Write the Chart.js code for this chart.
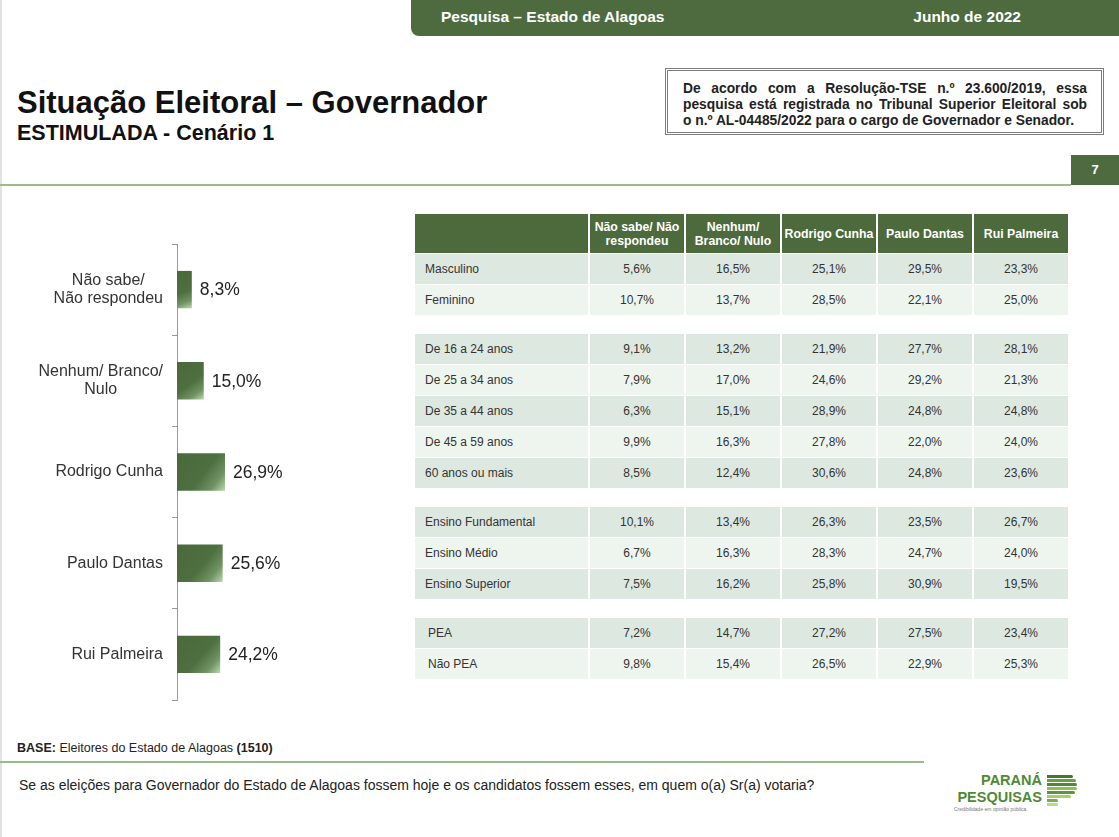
<!DOCTYPE html>
<html lang="pt-BR">
<head>
<meta charset="utf-8">
<title>Situação Eleitoral – Governador</title>
<script src="https://cdn.jsdelivr.net/npm/chart.js@4.4.1/dist/chart.umd.min.js"></script>
<style>
  html, body { margin: 0; padding: 0; background: #fff; }
  body { width: 1119px; height: 837px; position: relative; overflow: hidden;
         font-family: "Liberation Sans", Arial, sans-serif; color: #222; }
  .edge { position: absolute; left: 0; top: 0; width: 2px; height: 837px; background: #e2e2e2; }
  .band { position: absolute; left: 411px; top: 0; right: 0; height: 36px; background: #4e6b3f;
          border-bottom-left-radius: 8px; color: #fff; font-weight: bold; font-size: 15.5px; }
  .band span { position: absolute; top: 8px; }
  h1 { position: absolute; left: 17px; top: 85px; margin: 0; font-size: 31px; font-weight: bold; color: #111; }
  h2 { position: absolute; left: 17px; top: 121px; margin: 0; font-size: 21.5px; font-weight: bold; color: #111; }
  .tse { position: absolute; left: 665px; top: 68px; width: 433px; height: 61px; border: 3px double #7d7d7d;
         box-sizing: content-box; font-size: 13.8px; font-weight: bold; line-height: 16px; color: #222; }
  .tse div { position: absolute; left: 15px; right: 14px; white-space: nowrap; }
  .tse .j { text-align: justify; text-align-last: justify; white-space: normal; }
  .page { position: absolute; left: 1071px; top: 155px; width: 48px; height: 30px; background: #4e6b3f;
          color: #fff; font-weight: bold; font-size: 13px; text-align: center; line-height: 30px; }
  .rule { position: absolute; left: 0; height: 2px; background: #9cb98d; }
  #chartBox { position: absolute; left: 0; top: 240px; width: 400px; height: 464px; }
  table { position: absolute; left: 413px; top: 213px; border-collapse: separate; border-spacing: 2px 1px;
          table-layout: fixed; font-size: 12px; }
  th { background: #4d6a3c; color: #fff; font-weight: bold; height: 39px; padding: 0; line-height: 14px;
       white-space: nowrap; font-size: 12.3px; }
  td { height: 30px; padding: 0; text-align: center; color: #333; }
  td.lab { text-align: left; padding-left: 10px; }
  tr.dark td { background: #dde9e0; }
  tr.light td { background: #edf5ee; }
  tr.gap td { height: 17px; background: transparent; }
  .base { position: absolute; left: 17px; top: 741px; font-size: 12.5px; color: #222; }
  .question { position: absolute; left: 19px; top: 777px; font-size: 14px; color: #222; }
  .logo { position: absolute; left: 930px; top: 766px; width: 160px; height: 50px; }
  .logo .t { position: absolute; right: 48px; top: 6px; font-weight: bold; color: #4f8a35; font-size: 14.5px;
             line-height: 16.5px; text-align: right; white-space: nowrap; }
  .logo .tag { position: absolute; left: 24px; top: 41px; font-size: 5px; line-height: 5px; color: #777; white-space: nowrap; }
  .logo .p { position: absolute; left: 117px; top: 9px; }
  .logo .p div { height: 3px; margin-bottom: 1px; border-radius: 0 2px 2px 0; }
</style>
</head>
<body>
<div class="edge"></div>
<div class="band"><span style="left:30px">Pesquisa – Estado de Alagoas</span><span style="right:98px">Junho de 2022</span></div>
<h1>Situação Eleitoral – Governador</h1>
<h2>ESTIMULADA - Cenário 1</h2>
<div class="tse">
  <div class="j" style="top:10px">De acordo com a Resolução-TSE n.º 23.600/2019, essa</div>
  <div class="j" style="top:26px">pesquisa está registrada no Tribunal Superior Eleitoral sob</div>
  <div style="top:42px">o n.º AL-04485/2022 para o cargo de Governador e Senador.</div>
</div>
<div class="page">7</div>
<div class="rule" style="top:184px; width:1071px"></div>

<div id="chartBox"><canvas id="barChart"></canvas></div>

<table id="crossTable"></table>

<div class="base"><b>BASE:</b> Eleitores do Estado de Alagoas <b>(1510)</b></div>
<div class="rule" style="top:761px; width:924px"></div>
<div class="question">Se as eleições para Governador do Estado de Alagoas fossem hoje e os candidatos fossem esses, em quem o(a) Sr(a) votaria?</div>

<div class="logo">
  <div class="t">PARANÁ<br>PESQUISAS</div>
  <div class="tag">Credibilidade em opinião pública.</div>
  <div class="p">
    <div style="width:26px;background:#3f7a2c"></div>
    <div style="width:29px;background:#6a9f3d"></div>
    <div style="width:30px;background:#4e8a33"></div>
    <div style="width:30px;background:#8fbf52"></div>
    <div style="width:28px;background:#5c9638"></div>
    <div style="width:24px;background:#a6cf6a"></div>
    <div style="width:11px;background:#7cae48"></div>
    <div style="width:11px;background:#b8d98a"></div>
  </div>
</div>

<script>
// left chart: total per option
const categories = [["Não sabe/", "Não respondeu"], ["Nenhum/ Branco/", "Nulo"], "Rodrigo Cunha", "Paulo Dantas", "Rui Palmeira"];
const totals = [8.3, 15.0, 26.9, 25.6, 24.2];

// table on the right
const tableHeaders = [["Não sabe/ Não", "respondeu"], ["Nenhum/", "Branco/ Nulo"], ["Rodrigo Cunha"], ["Paulo Dantas"], ["Rui Palmeira"]];
const sexoRows = [
    ["Masculino", 5.6, 16.5, 25.1, 29.5, 23.3],
    ["Feminino", 10.7, 13.7, 28.5, 22.1, 25.0]
];
const idadeRows = [
    ["De 16 a 24 anos", 9.1, 13.2, 21.9, 27.7, 28.1],
    ["De 25 a 34 anos", 7.9, 17.0, 24.6, 29.2, 21.3],
    ["De 35 a 44 anos", 6.3, 15.1, 28.9, 24.8, 24.8],
    ["De 45 a 59 anos", 9.9, 16.3, 27.8, 22.0, 24.0],
    ["60 anos ou mais", 8.5, 12.4, 30.6, 24.8, 23.6]
];
const escolaridadeRows = [
    ["Ensino Fundamental", 10.1, 13.4, 26.3, 23.5, 26.7],
    ["Ensino Médio", 6.7, 16.3, 28.3, 24.7, 24.0],
    ["Ensino Superior", 7.5, 16.2, 25.8, 30.9, 19.5]
];
const peaRows = [
    ["PEA", 7.2, 14.7, 27.2, 27.5, 23.4],
    ["Não PEA", 9.8, 15.4, 26.5, 22.9, 25.3]
];

const fmt = v => v.toFixed(1).replace(".", ",") + "%";

function buildTable() {
    const table = document.getElementById("crossTable");
    let html = '<colgroup><col style="width:173px">' + '<col style="width:94px">'.repeat(5) + '</colgroup>';
    html += "<tr><th></th>" + tableHeaders.map(h => "<th>" + h.join("<br>") + "</th>").join("") + "</tr>";
    const groups = [sexoRows, idadeRows, escolaridadeRows, peaRows];
    groups.forEach((rows, g) => {
        if (g > 0) html += '<tr class="gap"><td colspan="6"></td></tr>';
        rows.forEach((r, i) => {
            const pad = rows === peaRows ? ' style="padding-left:13px"' : "";
            html += '<tr class="' + (i % 2 === 0 ? "dark" : "light") + '"><td class="lab"' + pad + ">" + r[0] + "</td>" +
                r.slice(1).map(v => "<td>" + fmt(v) + "</td>").join("") + "</tr>";
        });
    });
    table.innerHTML = html;
}

// y labels (centred multi-line blocks) and value labels
const labelPlugin = {
    id: "barLabels",
    afterDraw(chart) {
        const ctx = chart.ctx;
        const y = chart.scales.y;
        const meta = chart.getDatasetMeta(0);
        ctx.save();
        ctx.textBaseline = "middle";
        ctx.font = '16px "Liberation Sans", Arial, sans-serif';
        ctx.fillStyle = "#333";
        ctx.textAlign = "center";
        categories.forEach((lab, i) => {
            const lines = Array.isArray(lab) ? lab : [lab];
            const w = Math.max(...lines.map(l => ctx.measureText(l).width));
            const cx = chart.chartArea.left - 14 - w / 2;
            const cy = y.getPixelForValue(i);
            lines.forEach((l, k) => ctx.fillText(l, cx, cy + (k - (lines.length - 1) / 2) * 18));
        });
        ctx.font = '17.5px "Liberation Sans", Arial, sans-serif';
        ctx.fillStyle = "#222";
        ctx.textAlign = "left";
        meta.data.forEach((bar, i) => {
            ctx.fillText(fmt(totals[i]), bar.x + 8, bar.y + 1);
        });
        ctx.restore();
    }
};

function barFill(c) {
    const chart = c.chart;
    const xs = chart.scales.x, ys = chart.scales.y;
    if (!xs || !ys || c.type !== "data") return "#4b6b3e";
    const x0 = xs.getPixelForValue(0);
    const x1 = xs.getPixelForValue(c.raw);
    const yc = ys.getPixelForValue(c.dataIndex);
    const half = Math.abs(ys.getPixelForValue(1) - ys.getPixelForValue(0)) * 0.41 / 2;
    if (![x0, x1, yc, half].every(Number.isFinite)) return "#4b6b3e";
    const g = chart.ctx.createLinearGradient(x0, yc - half, x1, yc + half);
    g.addColorStop(0, "#4a693b");
    g.addColorStop(0.55, "#4e6f40");
    g.addColorStop(0.8, "#6f9362");
    g.addColorStop(1, "#b9d9ad");
    return g;
}

document.addEventListener("DOMContentLoaded", function () {
    buildTable();

    const canvas = document.getElementById("barChart");
    new Chart(canvas.getContext("2d"), {
        type: "bar",
        data: {
            labels: categories,
            datasets: [{
                data: totals,
                backgroundColor: barFill,
                borderWidth: 0,
                barPercentage: 0.41,
                categoryPercentage: 1
            }]
        },
        options: {
            indexAxis: "y",
            responsive: true,
            maintainAspectRatio: false,
            animation: false,
            layout: { padding: { top: 4, bottom: 4, left: 0, right: 0 } },
            plugins: { legend: { display: false }, tooltip: { enabled: false } },
            scales: {
                x: { display: false, min: 0, max: 125 },
                y: {
                    ticks: { display: false },
                    grid: { drawOnChartArea: false, drawTicks: true, tickLength: 5, color: "#9a9a9a", offset: true },
                    border: { display: true, color: "#9a9a9a", width: 1 },
                    afterFit(scale) { scale.width = 177; }
                }
            }
        },
        plugins: [labelPlugin]
    });
});
</script>
</body>
</html>
